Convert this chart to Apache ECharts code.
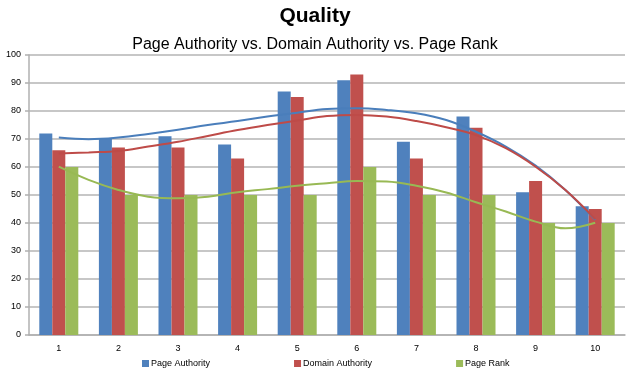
<!DOCTYPE html>
<html>
<head>
<meta charset="utf-8">
<script src="https://cdn.jsdelivr.net/npm/echarts@6/dist/echarts.min.js"></script>
<style>html,body{margin:0;padding:0;background:#fff}#c{width:630px;height:371px}</style>
</head>
<body>
<div id="c"></div>
<script>
var categories = ['1','2','3','4','5','6','7','8','9','10'];
var pageAuthority = [72, 70, 71, 68, 87, 91, 69, 78, 51, 46];
var domainAuthority = [66, 67, 67, 63, 85, 93, 63, 74, 55, 45];
var pageRank = [60, 50, 50, 50, 50, 60, 50, 50, 40, 40];
// trendline positions (x in category units)
var trendX = [1, 1.5, 2, 2.5, 3, 3.5, 4, 4.5, 5, 5.5, 6, 6.5, 7, 7.5, 8, 8.5, 9, 9.5, 10];
var trendPA = [70.5, 69.9, 70.5, 71.8, 73.3, 75.0, 76.4, 78.0, 79.4, 80.7, 81.0, 80.4, 79.2, 76.8, 72.6, 67.3, 60.5, 51.8, 41.1];
var trendDA = [64.8, 65.2, 65.7, 67.3, 69.0, 71.1, 73.2, 75.0, 76.6, 78.2, 78.6, 78.0, 76.4, 74.2, 71.4, 66.7, 60.1, 51.8, 41.4];
var trendPR = [60.1, 55.4, 51.8, 49.4, 48.8, 49.4, 51.0, 52.1, 53.3, 54.2, 55.0, 54.8, 53.3, 50.9, 47.4, 44.1, 40.5, 38.1, 40.1];

function pairs(xs, ys) { return xs.map(function (x, i) { return [x, ys[i]]; }); }

var font = 'Liberation Sans';
var chart = echarts.init(document.getElementById('c'), null, {renderer: 'canvas'});
chart.setOption({
  animation: false,
  backgroundColor: '#fff',
  title: [
    {text: 'Quality', left: 'center', top: 1,
     textStyle: {fontFamily: font, fontSize: 21, fontWeight: 'bold', color: '#000'}},
    {text: 'Page Authority vs. Domain Authority vs. Page Rank', left: 'center', top: 32,
     textStyle: {fontFamily: font, fontSize: 16, fontWeight: 'normal', color: '#000'}}
  ],
  legend: {
    data: ['Page Authority', 'Domain Authority', 'Page Rank'],
    left: 137, top: 354, itemWidth: 7, itemHeight: 7, itemGap: 84, icon: 'rect',
    textStyle: {fontFamily: font, fontSize: 9, color: '#000', padding: [0, 0, 0, -3]}
  },
  grid: {left: 29, right: 5, top: 55, bottom: 36, containLabel: false},
  xAxis: [
    {type: 'category', data: categories,
     axisLine: {lineStyle: {color: '#b0b0b0', width: 1.5}},
     axisTick: {show: false},
     axisLabel: {fontFamily: font, fontSize: 9, color: '#000', margin: 9}},
    {type: 'value', min: 0.5, max: 10.5, show: false}
  ],
  yAxis: {
    type: 'value', min: 0, max: 100, interval: 10,
    axisLine: {show: true, lineStyle: {color: '#b0b0b0', width: 1.5}},
    axisTick: {show: true, length: 4, lineStyle: {color: '#b0b0b0', width: 1.5}},
    axisLabel: {fontFamily: font, fontSize: 9, color: '#000', margin: 8},
    splitLine: {lineStyle: {color: '#b4b4b4', width: 1.5}}
  },
  series: [
    {name: 'Page Authority', type: 'bar', data: pageAuthority, barWidth: 13, barGap: '0%',
     itemStyle: {color: '#4F81BD'}},
    {name: 'Domain Authority', type: 'bar', data: domainAuthority, barWidth: 13, barGap: '0%',
     itemStyle: {color: '#C0504D'}},
    {name: 'Page Rank', type: 'bar', data: pageRank, barWidth: 13, barGap: '0%',
     itemStyle: {color: '#9BBB59'}},
    {name: 'PA trend', type: 'line', xAxisIndex: 1, data: pairs(trendX, trendPA), smooth: 0.4,
     symbol: 'none', lineStyle: {color: '#4A7EBB', width: 2}, z: 5},
    {name: 'DA trend', type: 'line', xAxisIndex: 1, data: pairs(trendX, trendDA), smooth: 0.4,
     symbol: 'none', lineStyle: {color: '#BE4B48', width: 2}, z: 5},
    {name: 'PR trend', type: 'line', xAxisIndex: 1, data: pairs(trendX, trendPR), smooth: 0.4,
     symbol: 'none', lineStyle: {color: '#98B954', width: 2}, z: 5}
  ]
});
</script>
</body>
</html>
